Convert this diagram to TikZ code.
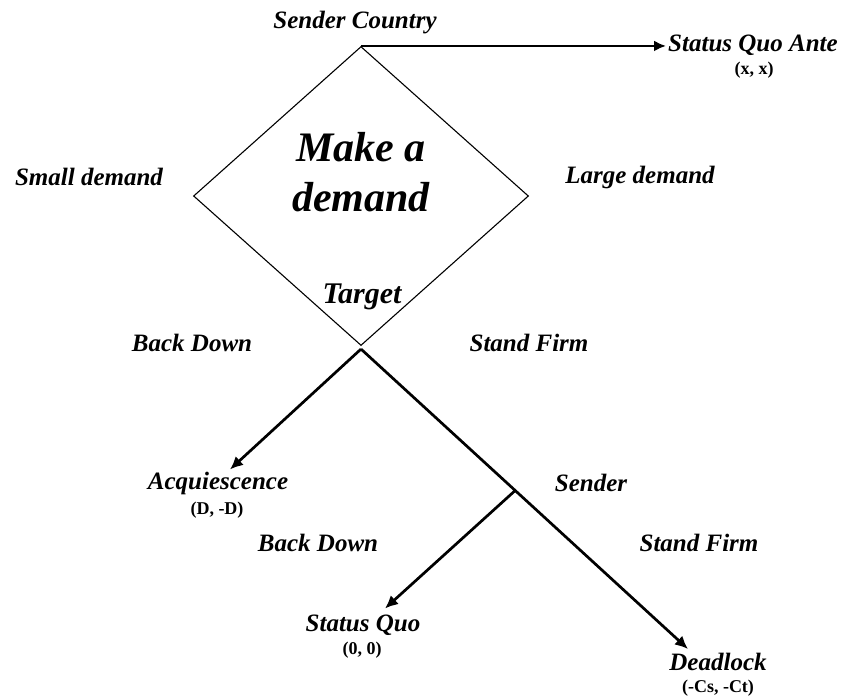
\documentclass[tikz,border=0pt]{standalone}
\usepackage{fontspec}
\setmainfont{Liberation Serif}
\usepackage{tikz}
\usetikzlibrary{shapes.geometric,arrows.meta,calc,positioning}

\tikzset{
  lbl/.style={font=\fontsize{25}{30}\selectfont\bfseries\itshape, inner sep=2pt},
  pay/.style={font=\fontsize{18}{21}\selectfont\bfseries, inner sep=2pt},
  arr/.style={line width=2.7pt, -{Latex[length=13pt,width=12pt]}},
  branch/.style={line width=2.7pt}
}

\begin{document}
\begin{tikzpicture}[x=1pt, y=-1pt]
\useasboundingbox (0,0) rectangle (843,697);
% the decision box
\node[draw, diamond, line width=1.1pt, inner sep=0pt,
      minimum width=335pt, minimum height=299pt] (demand) at (361,196) {};
\node[font=\fontsize{42}{50}\selectfont\bfseries\itshape, align=center]
      (maketext) at (361,172) {Make a\\demand};
\node[font=\fontsize{30}{36}\selectfont\bfseries\itshape] (target) at (362,297) {Target};
\node[lbl] (sender0) at (355,23) {Sender Country};
\node[lbl] (small) at (89,177) {Small demand};
\node[lbl] (large) at (640,177) {Large demand};
% status quo ante
\node[lbl, anchor=west] (sqa) at (666,45) {Status Quo Ante};
\node[pay] (sqapay) at (754,70) {(x, x)};
\draw[line width=2.3pt, -{Latex[length=12pt,width=11pt]}] (demand.north) -- (demand.north -| sqa.west);
% target moves
\coordinate (tgt) at ([yshift=-3pt]demand.south);
\node[lbl] (back1) at (192,343) {Back Down};
\node[lbl] (firm1) at (529,343) {Stand Firm};
\node[lbl] (acq) at (218,483) {Acquiescence};
\node[pay] (acqpay) at (217,510) {(D, -D)};
\node[lbl] (dead) at (718,662) {Deadlock};
\node[pay] (deadpay) at (718,688) {(-Cs, -Ct)};
\draw[arr] (tgt) -- ([xshift=12pt]acq.north);
\draw[arr] (tgt) -- ([xshift=-30pt,yshift=2pt]dead.north);
% sender moves
\coordinate (jn) at ($(tgt)!0.47!([xshift=-30pt]dead.north)$);
\node[lbl] (sender1) at (591,483) {Sender};
\node[lbl] (back2) at (318,543) {Back Down};
\node[lbl] (firm2) at (699,543) {Stand Firm};
\node[lbl] (sq) at (363,625) {Status Quo};
\node[pay] (sqpay) at (362,650) {(0, 0)};
\draw[arr] (jn) -- ([xshift=22pt,yshift=4pt]sq.north);
\end{tikzpicture}
\end{document}
